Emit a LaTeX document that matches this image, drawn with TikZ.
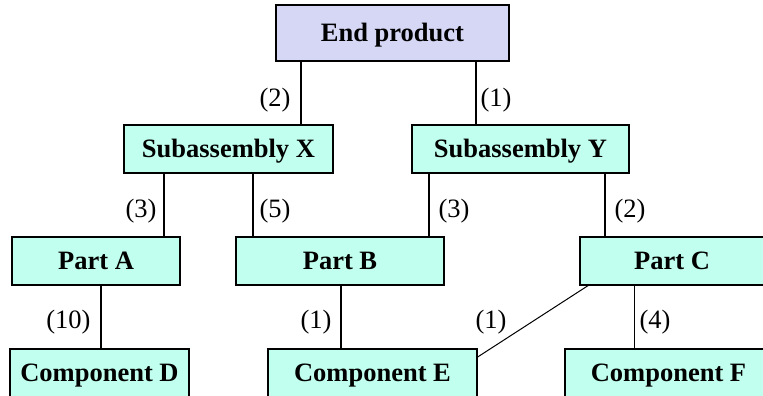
\documentclass[tikz,border=0pt]{standalone}
\usepackage{fontspec}
\setmainfont{Liberation Serif}
\definecolor{topfill}{RGB}{214,214,245}
\definecolor{partfill}{RGB}{193,255,238}
\tikzset{
  box/.style={draw=black, line width=1.3pt, fill=partfill, inner sep=0pt,
    text height=17.5pt, text depth=0pt,
    font=\fontsize{26.5}{31}\selectfont\bfseries},
  topbox/.style={box, fill=topfill},
  link/.style={line width=2pt},
  thinlink/.style={line width=1pt},
  qty/.style={inner sep=0pt, font=\fontsize{26.5}{31}\selectfont}
}
\begin{document}
\begin{tikzpicture}[x=1pt, y=-1pt]
\useasboundingbox (0,0) rectangle (763,396);
\clip (0,0) rectangle (763,396);

% product structure boxes
\node[topbox, minimum width=233pt, minimum height=56pt] (ep) at (392.5,33) {End product};
\node[box, minimum width=209pt, minimum height=48pt] (sx) at (228.5,149) {Subassembly X};
\node[box, minimum width=217pt, minimum height=48pt] (sy) at (520.5,149) {Subassembly Y};
\node[box, minimum width=168pt, minimum height=48pt] (pa) at (96,261) {Part A};
\node[box, minimum width=208pt, minimum height=48pt] (pb) at (340,261) {Part B};
\node[box, minimum width=184pt, minimum height=48pt] (pc) at (672,261) {Part C};
\node[box, minimum width=179pt, minimum height=48pt] (cd) at (99.5,373) {Component D};
\node[box, minimum width=209pt, minimum height=48pt] (ce) at (372.5,373) {Component E};
\node[box, minimum width=207pt, minimum height=48pt] (cf) at (668.5,373) {Component F};

% connectors
\draw[link] (ep.south -| 301,0) -- (sx.north -| 301,0);
\draw[link] (ep.south -| 476,0) -- (sy.north -| 476,0);
\draw[link] (sx.south -| 164,0) -- (pa.north -| 164,0);
\draw[link] (sx.south -| 253,0) -- (pb.north -| 253,0);
\draw[link] (sy.south -| 429,0) -- (pb.north -| 429,0);
\draw[link] (sy.south -| 605,0) -- (pc.north -| 605,0);
\draw[link] (pa.south -| 101,0) -- (cd.north -| 101,0);
\draw[link] (pb.south -| 341,0) -- (ce.north -| 341,0);
\draw[thinlink] (pc.south -| 588,0) -- (ce.east |- 0,357);
\draw[thinlink] (pc.south -| 634,0) -- (cf.north -| 634,0);

% quantities
\node[qty] (q1) at (275,100) {(2)};
\node[qty] (q2) at (496,100) {(1)};
\node[qty] (q3) at (141,211) {(3)};
\node[qty] (q4) at (275,211) {(5)};
\node[qty] (q5) at (454,211) {(3)};
\node[qty] (q6) at (630,211) {(2)};
\node[qty] (q7) at (68.5,322) {(10)};
\node[qty] (q8) at (316,322) {(1)};
\node[qty] (q9) at (491,322) {(1)};
\node[qty] (q10) at (655,322) {(4)};
\end{tikzpicture}
\end{document}
